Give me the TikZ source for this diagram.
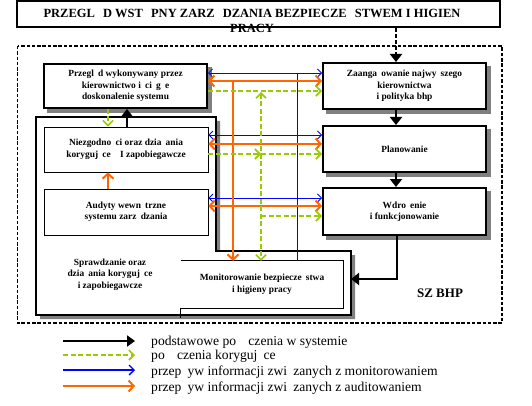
\documentclass[tikz,border=0pt]{standalone}
\usepackage{fontspec}
\setmainfont{Liberation Serif}
\usetikzlibrary{arrows.meta,backgrounds}
\definecolor{bhporange}{HTML}{FF6600}
\definecolor{bhpgreen}{HTML}{99CC00}
\definecolor{bhpblue}{HTML}{0000FF}
\definecolor{shadowgray}{HTML}{808080}
\newcommand{\m}{\hspace{0.45em}}
\newcommand{\M}{\hspace{0.65em}}
\begin{document}
\begin{tikzpicture}[x=1pt,y=-1pt,
  boxfont/.style={font=\fontsize{9.4}{11.5}\selectfont\bfseries},
  thickbox/.style={draw, line width=2pt, fill=white, inner sep=0pt, align=center, boxfont},
  thinbox/.style={draw, line width=0.8pt, fill=white, inner sep=0pt, align=center, boxfont},
  plaintext/.style={inner sep=0pt, align=center, boxfont},
  mainarrow/.style={line width=2.6pt, -{Triangle[length=8pt,width=12pt]}},
  bluearrow/.style={bhpblue, line width=0.8pt},
  orangearrow/.style={bhporange, line width=2.4pt},
  greenarrow/.style={bhpgreen, line width=2pt, dash pattern=on 5pt off 2.5pt},
  legendtext/.style={anchor=west, inner sep=0pt, font=\fontsize{13.6}{15}\selectfont}
]
\useasboundingbox (0,0) rectangle (532,406);

% title
\node[draw, line width=1.6pt, minimum width=483pt, minimum height=26pt, inner sep=0pt] (title) at (258.5,14) {};
\node[inner sep=0pt, align=center, font=\fontsize{12.5}{15}\selectfont\bfseries] (titletxt) at (252,20.5)
  {PRZEGL\M D WST\M PNY ZARZ\M DZANIA BEZPIECZE\M STWEM I HIGIEN\\PRACY};

% outer dashed frame
\draw[line width=1.4pt, dash pattern=on 3.5pt off 1.8pt] (17.5,46) rectangle (502,323);

% big Sprawdzanie outline
\fill[shadowgray, shift={(4,4)}] (36,117) -- (216,117) -- (216,251) -- (351,251) -- (351,315) -- (36,315) -- cycle;
\draw[line width=2pt, fill=white] (36,117) -- (216,117) -- (216,251) -- (351,251) -- (351,315) -- (36,315) -- cycle;
\node[plaintext] (spr) at (110,274.5) {Sprawdzanie oraz\\dzia\m ania koryguj\m ce\\i zapobiegawcze};

% boxes
\node[thickbox, minimum width=163pt, minimum height=44pt] (prz) at (125.5,86)
  {Przegl\m d wykonywany przez\\kierownictwo i\m ci\m g\m e\\doskonalenie systemu};
\node[thinbox, minimum width=164pt, minimum height=45pt] (nie) at (126,149.5)
  {Niezgodno\m ci oraz dzia\m ania\\koryguj\m ce\quad I zapobiegawcze};
\node[thinbox, minimum width=164pt, minimum height=46pt] (aud) at (126,212)
  {Audyty wewn\m trzne\\systemu zarz\m dzania};
\node[thickbox, minimum width=163pt, minimum height=46pt] (zaang) at (404.5,86)
  {Zaanga\m owanie najwy\m szego\\kierownictwa\\i polityka bhp};
\node[thickbox, minimum width=163pt, minimum height=46pt] (plan) at (404.5,149) {Planowanie};
\node[thickbox, minimum width=163pt, minimum height=47pt] (wdr) at (404.5,211.5)
  {Wdro\m enie\\i funkcjonowanie};
\node[inner sep=0pt, minimum width=162pt, minimum height=47pt, align=center, boxfont] (mon) at (262,284.5)
  {Monitorowanie bezpiecze\m stwa\\i higieny pracy};
\draw[line width=0.8pt] (mon.north west) -- (mon.north east) -- (mon.south east) -- (mon.south west) -- ([yshift=-10pt]mon.south west);

% shadows of the thick boxes
\begin{scope}[on background layer]
  \foreach \b in {prz,zaang,plan,wdr}
    \fill[shadowgray] ([shift={(4,4)}]\b.north west) rectangle ([shift={(4,4)}]\b.south east);
\end{scope}

\node[inner sep=0pt, font=\fontsize{13}{15}\selectfont\bfseries] (szbhp) at (440,293) {SZ BHP};

% main black arrows
\coordinate (ax) at (396,0);
\draw[line width=2pt, dash pattern=on 4pt off 2pt] (title.south -| ax) -- ([yshift=8pt]zaang.north -| ax);
\draw[-{Triangle[length=8pt,width=12pt]}, line width=2pt] ([yshift=9pt]zaang.north -| ax) -- (zaang.north -| ax);
\draw[mainarrow] (zaang.south -| ax) -- (plan.north -| ax);
\draw[mainarrow] (plan.south -| ax) -- (wdr.north -| ax);
\coordinate (wb) at (397,279);
\draw[mainarrow] (wdr.south -| wb) |- (351,279);
\coordinate (nb) at (127,0);
\draw[mainarrow] (nie.north -| nb) -- (prz.south -| nb);

% left column local arrows
\coordinate (lc) at (108,0);
\draw[greenarrow, -{Straight Barb[length=5pt,width=10pt,line width=1.6pt]}] (prz.south -| lc) -- (nie.north -| lc);
\draw[orangearrow, -{Straight Barb[length=5pt,width=11pt,line width=2pt]}] (aud.north -| lc) -- (nie.south -| lc);

% row connectors
\coordinate (r1b) at (0,73);  \coordinate (r1o) at (0,81);  \coordinate (r1g) at (0,91);
\coordinate (r2b) at (0,135); \coordinate (r2o) at (0,144); \coordinate (r2g) at (0,154);
\coordinate (r3b) at (0,198); \coordinate (r3o) at (0,206); \coordinate (r3g) at (0,216);
\coordinate (vo) at (233,0); \coordinate (vg) at (261,0); \coordinate (vb) at (297,0);

% blue
\draw[bluearrow, {Straight Barb[length=4pt,width=8pt,line width=0.8pt]}-{Straight Barb[length=4pt,width=8pt,line width=0.8pt]}] (prz.east |- r1b) -- (zaang.west |- r1b);
\draw[bluearrow, {Straight Barb[length=4pt,width=8pt,line width=0.8pt]}-{Straight Barb[length=4pt,width=8pt,line width=0.8pt]}] (nie.east |- r2b) -- (plan.west |- r2b);
\draw[bluearrow, {Straight Barb[length=4pt,width=8pt,line width=0.8pt]}-{Straight Barb[length=4pt,width=8pt,line width=0.8pt]}] (aud.east |- r3b) -- (wdr.west |- r3b);
\draw[bluearrow] (vb |- r1b) -- (mon.north -| vb);

% orange
\draw[orangearrow, {Straight Barb[length=5pt,width=11pt,line width=2pt]}-{Straight Barb[length=5pt,width=11pt,line width=2pt]}] (prz.east |- r1o) -- (zaang.west |- r1o);
\draw[orangearrow, {Straight Barb[length=5pt,width=11pt,line width=2pt]}-{Straight Barb[length=5pt,width=11pt,line width=2pt]}] (nie.east |- r2o) -- (plan.west |- r2o);
\draw[orangearrow, {Straight Barb[length=5pt,width=11pt,line width=2pt]}-{Straight Barb[length=5pt,width=11pt,line width=2pt]}] (aud.east |- r3o) -- (wdr.west |- r3o);
\draw[orangearrow, -{Straight Barb[length=5pt,width=11pt,line width=2pt]}] (vo |- r1o) -- (mon.north -| vo);

% green
\coordinate (g2) at (261,154);
\draw[greenarrow, -{Straight Barb[length=5pt,width=10pt,line width=1.6pt]}] (prz.east |- r1g) -- (zaang.west |- r1g);
\draw[greenarrow, -{Straight Barb[length=5pt,width=10pt,line width=1.6pt]}] (nie.east |- r2g) -- (g2);
\draw[greenarrow, -{Straight Barb[length=5pt,width=10pt,line width=1.6pt]}] (g2) -- (plan.west |- r2g);
\draw[greenarrow, {Straight Barb[length=5pt,width=10pt,line width=1.6pt]}-{Straight Barb[length=5pt,width=10pt,line width=1.6pt]}] ([yshift=-1pt]vg |- r1g) -- (mon.north -| vg);
\draw[greenarrow, -{Straight Barb[length=5pt,width=10pt,line width=1.6pt]}] (vg |- r3g) -- (wdr.west |- r3g);

% legend
\coordinate (la1) at (63,341);  \coordinate (lb1) at (135,341);
\coordinate (la2) at (63,355);  \coordinate (lb2) at (135,355);
\coordinate (la3) at (63,370);  \coordinate (lb3) at (135,370);
\coordinate (la4) at (63,386);  \coordinate (lb4) at (135,386);
\draw[line width=2.4pt, -{Triangle[length=8pt,width=11pt]}] (la1) -- (lb1);
\draw[greenarrow, -{Straight Barb[length=5pt,width=10pt,line width=1.6pt]}] (la2) -- (lb2);
\draw[bhpblue, line width=1.4pt, -{Straight Barb[length=5pt,width=10pt,line width=1.4pt]}] (la3) -- (lb3);
\draw[orangearrow, line width=2pt, -{Straight Barb[length=5pt,width=11pt,line width=2pt]}] (la4) -- (lb4);
\node[legendtext] (lt1) at (151,342) {podstawowe po\m\m czenia w systemie};
\node[legendtext] (lt2) at (151,356) {po\m\m czenia koryguj\m ce};
\node[legendtext] (lt3) at (151,372) {przep\m yw informacji zwi\m zanych z monitorowaniem};
\node[legendtext] (lt4) at (151,388) {przep\m yw informacji zwi\m zanych z auditowaniem};
\end{tikzpicture}
\end{document}
